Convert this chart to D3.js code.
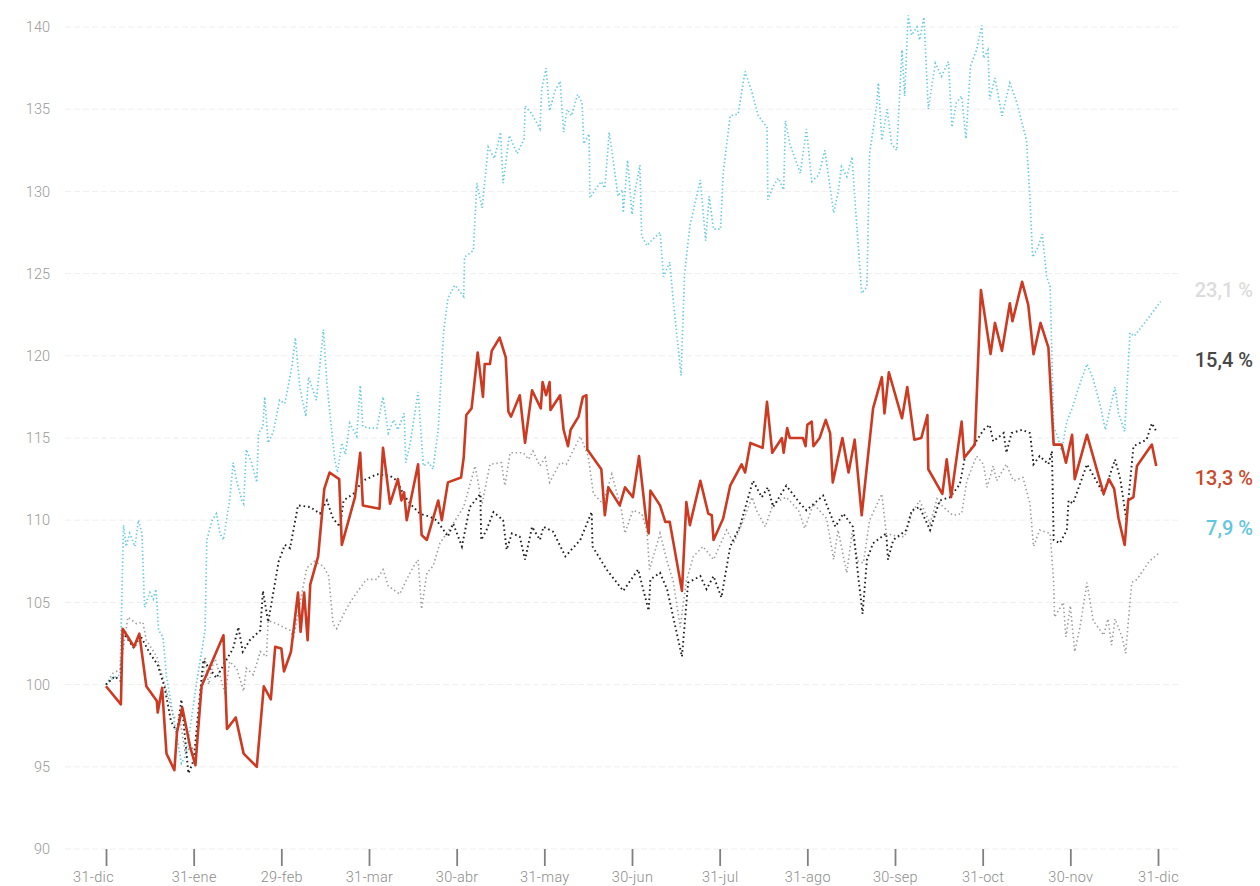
<!DOCTYPE html>
<html><head><meta charset="utf-8">
<script src="https://cdn.jsdelivr.net/npm/d3@7"></script>
<style>
html,body{margin:0;padding:0;background:#fff;}
svg{display:block;}
.ax text{font-family:Roboto,"DejaVu Sans",sans-serif;font-weight:300;fill:#8a8a8a;}
.lbl{font-family:Roboto,"DejaVu Sans",sans-serif;font-weight:500;}
</style></head>
<body><svg id="c" width="1260" height="886"></svg>
<script>
// ---- data (months since 31-dic, index value) ----
const monthLabels = ["31-dic","31-ene","29-feb","31-mar","30-abr","31-may","30-jun","31-jul","31-ago","30-sep","31-oct","30-nov","31-dic"];
const yTicks = [90,95,100,105,110,115,120,125,130,135,140];

const red = [[0.00,99.9],[0.17,98.8],[0.19,103.4],[0.32,102.3],[0.38,103.1],[0.46,99.9],[0.58,99.0],[0.59,98.3],[0.64,99.8],[0.69,95.8],[0.78,94.8],[0.81,97.1],[0.87,98.6],[0.96,96.2],[1.02,95.1],[1.09,99.9],[1.34,103.0],[1.38,97.3],[1.48,98.0],[1.57,95.8],[1.72,95.0],[1.80,99.9],[1.88,99.1],[1.93,102.3],[2.00,102.2],[2.03,100.8],[2.11,102.0],[2.19,105.6],[2.22,103.2],[2.26,105.6],[2.30,102.7],[2.33,106.1],[2.42,107.8],[2.49,111.9],[2.55,112.9],[2.66,112.5],[2.69,108.5],[2.84,111.4],[2.90,114.1],[2.93,110.9],[3.12,110.7],[3.16,114.4],[3.24,111.0],[3.33,112.5],[3.37,111.2],[3.40,111.7],[3.43,110.0],[3.56,113.4],[3.60,109.1],[3.66,108.8],[3.79,111.2],[3.83,110.0],[3.90,112.3],[4.05,112.6],[4.08,113.8],[4.11,116.4],[4.17,116.8],[4.24,120.2],[4.30,117.5],[4.32,119.5],[4.38,119.5],[4.40,120.3],[4.49,121.1],[4.56,119.9],[4.59,116.6],[4.62,116.3],[4.72,117.6],[4.78,114.7],[4.86,117.9],[4.96,116.8],[4.98,118.4],[5.02,117.6],[5.06,118.4],[5.07,116.7],[5.18,117.6],[5.22,115.5],[5.27,114.5],[5.30,115.5],[5.39,116.3],[5.44,117.5],[5.48,117.6],[5.49,114.3],[5.65,113.1],[5.69,110.3],[5.73,112.0],[5.86,110.9],[5.92,112.0],[6.01,111.4],[6.08,113.9],[6.16,110.1],[6.19,109.2],[6.21,111.8],[6.32,110.9],[6.38,109.9],[6.43,109.9],[6.57,105.7],[6.62,111.1],[6.66,109.7],[6.78,112.4],[6.87,110.4],[6.91,110.3],[6.93,108.8],[7.04,110.1],[7.12,112.1],[7.25,113.4],[7.29,112.9],[7.35,114.7],[7.49,114.4],[7.54,117.2],[7.60,114.1],[7.71,115.0],[7.73,114.1],[7.77,115.6],[7.80,115.0],[7.95,115.0],[7.98,114.5],[8.00,115.8],[8.05,116.0],[8.07,114.5],[8.14,115.0],[8.21,116.1],[8.26,115.3],[8.29,112.3],[8.40,115.0],[8.47,112.9],[8.54,114.9],[8.62,110.3],[8.75,116.8],[8.85,118.7],[8.88,116.5],[8.93,119.0],[9.08,116.2],[9.14,118.1],[9.22,114.9],[9.30,115.0],[9.37,116.4],[9.38,113.1],[9.54,111.6],[9.59,113.7],[9.64,111.4],[9.76,116.0],[9.79,113.8],[9.91,114.6],[9.98,124.0],[10.09,120.1],[10.14,122.0],[10.22,120.3],[10.31,123.2],[10.34,122.1],[10.45,124.5],[10.52,123.1],[10.58,120.1],[10.66,122.0],[10.75,120.5],[10.81,114.6],[10.90,114.6],[10.95,113.5],[11.02,115.2],[11.05,112.5],[11.19,115.2],[11.38,111.6],[11.44,112.5],[11.50,111.9],[11.55,110.1],[11.62,108.5],[11.66,111.2],[11.72,111.4],[11.76,113.3],[11.93,114.6],[11.98,113.3]];

const black = [[0.00,100.0],[0.10,100.5],[0.17,100.2],[0.19,103.2],[0.27,102.6],[0.32,102.2],[0.39,103.0],[0.50,101.9],[0.59,101.2],[0.67,99.8],[0.74,97.8],[0.81,97.1],[0.86,99.1],[0.94,94.6],[1.00,95.4],[1.11,101.5],[1.26,100.4],[1.34,101.2],[1.45,102.2],[1.51,103.5],[1.56,102.0],[1.64,102.7],[1.76,103.3],[1.79,105.7],[1.85,103.8],[1.97,107.5],[2.04,108.5],[2.10,108.3],[2.19,110.9],[2.33,110.8],[2.44,110.4],[2.52,111.2],[2.59,110.1],[2.67,109.6],[2.71,111.2],[2.82,111.6],[2.93,112.4],[3.09,112.8],[3.24,112.7],[3.32,112.4],[3.39,111.6],[3.47,111.0],[3.58,110.4],[3.70,110.2],[3.77,110.0],[3.85,109.4],[3.90,109.0],[3.96,109.8],[4.06,108.4],[4.15,110.8],[4.27,111.6],[4.28,108.8],[4.34,109.4],[4.42,110.5],[4.53,110.0],[4.57,108.2],[4.63,109.2],[4.72,109.0],[4.78,107.6],[4.86,109.6],[4.95,108.8],[4.99,109.6],[5.10,109.3],[5.24,107.8],[5.41,108.8],[5.54,110.5],[5.55,108.4],[5.71,107.0],[5.90,105.7],[6.07,107.0],[6.19,104.5],[6.21,106.4],[6.32,106.8],[6.40,105.8],[6.57,101.7],[6.64,106.2],[6.78,106.6],[6.85,105.8],[6.93,106.6],[7.02,105.3],[7.12,108.4],[7.23,109.6],[7.38,112.4],[7.48,111.4],[7.55,112.0],[7.61,110.8],[7.76,112.1],[7.92,111.0],[7.99,110.6],[8.18,111.5],[8.26,110.4],[8.32,109.6],[8.41,110.4],[8.52,109.6],[8.58,106.6],[8.63,104.3],[8.68,107.6],[8.75,108.6],[8.90,109.2],[8.92,107.6],[8.98,108.8],[9.13,109.4],[9.19,110.6],[9.28,110.8],[9.40,109.4],[9.51,111.2],[9.63,111.4],[9.74,112.2],[9.80,113.9],[9.89,114.5],[10.01,115.5],[10.08,115.8],[10.12,114.8],[10.24,115.3],[10.27,114.1],[10.33,115.3],[10.45,115.5],[10.54,115.3],[10.58,113.4],[10.65,113.9],[10.75,113.4],[10.79,114.2],[10.81,108.8],[10.88,108.6],[10.96,109.4],[10.98,111.2],[11.03,111.0],[11.19,113.4],[11.38,111.6],[11.51,113.7],[11.57,112.5],[11.64,110.0],[11.72,114.5],[11.87,114.9],[11.93,115.9],[11.98,115.4]];

const grey = [[0.00,100.0],[0.08,100.7],[0.16,100.9],[0.25,104.1],[0.35,103.7],[0.42,103.8],[0.46,102.7],[0.58,101.7],[0.67,100.0],[0.77,98.0],[0.84,98.0],[0.90,96.0],[1.03,96.2],[1.13,101.7],[1.17,100.0],[1.24,101.7],[1.36,99.4],[1.41,101.4],[1.49,101.0],[1.57,99.6],[1.60,101.0],[1.68,100.6],[1.76,102.0],[1.83,101.7],[1.85,103.9],[1.95,103.7],[2.02,103.5],[2.10,103.3],[2.14,102.9],[2.29,107.1],[2.38,107.5],[2.48,107.2],[2.54,106.6],[2.59,103.7],[2.63,103.4],[2.73,104.5],[2.82,105.3],[2.97,106.4],[3.09,106.4],[3.16,107.0],[3.22,106.0],[3.35,105.5],[3.43,106.4],[3.51,107.2],[3.56,107.6],[3.60,104.6],[3.66,106.8],[3.73,107.2],[3.81,108.6],[3.96,109.8],[4.08,110.8],[4.21,113.3],[4.29,111.0],[4.38,113.4],[4.51,113.5],[4.55,112.1],[4.61,114.1],[4.76,114.1],[4.82,113.7],[4.87,114.2],[4.95,113.3],[5.01,113.8],[5.06,112.3],[5.18,113.5],[5.25,113.4],[5.41,115.1],[5.50,113.9],[5.56,111.6],[5.67,111.0],[5.77,112.8],[5.88,110.6],[5.92,109.2],[6.01,110.6],[6.11,110.4],[6.17,109.4],[6.20,107.0],[6.32,109.2],[6.40,107.5],[6.47,106.3],[6.55,103.5],[6.62,106.3],[6.70,107.8],[6.81,108.4],[6.93,107.6],[7.08,109.4],[7.16,108.6],[7.27,110.0],[7.37,111.4],[7.42,110.6],[7.52,109.6],[7.61,111.0],[7.76,111.4],[7.90,110.6],[7.97,109.5],[8.07,111.0],[8.22,110.1],[8.30,107.6],[8.35,109.4],[8.45,106.8],[8.51,109.2],[8.58,107.5],[8.64,107.4],[8.71,110.0],[8.85,111.6],[8.90,109.2],[9.04,109.0],[9.11,109.0],[9.19,110.4],[9.28,111.2],[9.40,109.8],[9.48,111.3],[9.55,110.8],[9.66,110.3],[9.76,110.4],[9.82,112.4],[9.93,113.9],[10.01,113.4],[10.05,112.0],[10.12,113.3],[10.16,112.4],[10.27,113.4],[10.35,112.4],[10.46,112.6],[10.54,111.0],[10.58,108.4],[10.65,109.4],[10.77,109.2],[10.81,106.2],[10.82,104.1],[10.92,105.0],[10.95,102.9],[11.00,104.8],[11.05,102.0],[11.11,103.5],[11.19,106.2],[11.26,103.9],[11.38,103.0],[11.43,104.0],[11.47,102.4],[11.51,104.0],[11.59,102.9],[11.63,101.9],[11.70,106.2],[11.76,106.4],[11.90,107.5],[12.01,108.0]];

const cyan = [[0.00,100.0],[0.08,100.4],[0.16,100.6],[0.20,109.7],[0.23,108.4],[0.27,109.2],[0.33,108.4],[0.37,110.0],[0.41,109.2],[0.44,104.7],[0.50,105.6],[0.54,105.2],[0.57,105.8],[0.60,103.3],[0.65,102.9],[0.69,100.5],[0.77,98.0],[0.86,95.2],[0.90,95.6],[0.95,97.0],[1.03,100.0],[1.13,103.3],[1.15,108.8],[1.21,110.0],[1.26,110.4],[1.30,109.2],[1.34,108.8],[1.38,110.2],[1.41,111.2],[1.45,113.5],[1.49,112.4],[1.55,111.2],[1.57,111.0],[1.60,114.3],[1.66,113.5],[1.72,112.3],[1.74,115.3],[1.79,115.7],[1.81,117.5],[1.85,114.7],[1.91,115.4],[1.98,117.3],[2.04,117.1],[2.12,119.3],[2.16,121.1],[2.21,118.1],[2.28,116.3],[2.31,118.7],[2.40,117.3],[2.48,121.6],[2.52,118.3],[2.57,115.7],[2.61,113.7],[2.64,112.9],[2.69,114.7],[2.73,114.0],[2.78,115.9],[2.86,115.1],[2.90,118.2],[2.93,115.7],[3.01,115.6],[3.09,115.6],[3.16,117.5],[3.22,115.3],[3.28,116.1],[3.33,115.5],[3.40,116.5],[3.42,113.5],[3.47,114.7],[3.56,117.8],[3.62,113.3],[3.68,113.5],[3.73,113.1],[3.79,115.5],[3.85,121.4],[3.90,123.5],[3.98,124.3],[4.08,123.6],[4.09,126.0],[4.19,126.4],[4.23,130.5],[4.29,129.0],[4.36,132.7],[4.43,132.0],[4.50,133.6],[4.53,130.5],[4.60,133.4],[4.69,132.3],[4.77,133.2],[4.78,135.2],[4.86,134.7],[4.95,133.8],[4.97,136.2],[5.02,137.5],[5.06,134.9],[5.12,136.1],[5.18,136.7],[5.22,133.6],[5.26,135.0],[5.31,134.6],[5.38,135.9],[5.43,135.4],[5.45,132.9],[5.51,133.5],[5.52,129.6],[5.58,130.1],[5.65,130.6],[5.69,130.2],[5.74,133.6],[5.79,131.7],[5.84,129.7],[5.89,130.1],[5.90,128.7],[5.95,131.9],[6.00,128.6],[6.03,129.9],[6.09,131.6],[6.11,127.3],[6.17,126.7],[6.22,127.0],[6.32,127.5],[6.36,124.8],[6.43,125.7],[6.47,123.4],[6.56,118.8],[6.60,125.0],[6.66,127.9],[6.78,130.7],[6.84,127.0],[6.88,129.7],[6.93,127.7],[7.01,127.7],[7.04,131.1],[7.12,134.6],[7.21,134.7],[7.29,137.3],[7.37,136.0],[7.44,134.6],[7.54,133.9],[7.55,129.5],[7.61,130.3],[7.67,130.8],[7.73,130.1],[7.75,134.3],[7.80,132.9],[7.92,131.1],[7.99,133.8],[8.05,130.6],[8.13,131.0],[8.20,132.5],[8.30,128.7],[8.35,129.9],[8.39,131.5],[8.45,130.9],[8.51,132.1],[8.54,129.7],[8.62,123.8],[8.68,124.2],[8.71,132.3],[8.79,135.2],[8.81,136.6],[8.85,133.1],[8.91,135.0],[8.96,132.9],[9.02,132.5],[9.08,138.6],[9.11,135.8],[9.15,140.7],[9.19,139.5],[9.25,140.0],[9.28,139.2],[9.33,140.6],[9.38,135.0],[9.46,137.8],[9.53,137.0],[9.61,137.9],[9.65,133.9],[9.70,135.4],[9.76,135.8],[9.81,133.2],[9.86,137.6],[9.93,138.6],[9.99,140.1],[10.01,138.1],[10.06,138.6],[10.08,135.6],[10.14,136.9],[10.22,134.6],[10.31,136.6],[10.39,135.4],[10.50,133.1],[10.54,129.5],[10.57,126.0],[10.63,126.6],[10.68,127.4],[10.73,124.8],[10.77,124.2],[10.81,115.7],[10.86,115.0],[10.90,114.2],[10.96,116.0],[11.02,116.8],[11.09,118.0],[11.19,119.5],[11.26,118.6],[11.34,117.0],[11.40,115.5],[11.45,116.7],[11.51,118.1],[11.55,116.5],[11.62,115.4],[11.68,121.4],[11.73,121.2],[11.89,122.3],[12.03,123.3]];

const endLabels = ["23,1 %","15,4 %","13,3 %","7,9 %"];

// ---- layout / style ----
const svg = d3.select("#c");
const x = d3.scaleLinear().domain([0,12]).range([106,1158]);
const y = d3.scaleLinear().domain([90,140]).range([849,27]);

// grid
svg.append("g").selectAll("line").data(yTicks).join("line")
  .attr("x1",65).attr("x2",1180)
  .attr("y1",d=>y(d)).attr("y2",d=>y(d))
  .attr("stroke","#efefef").attr("stroke-width",1).attr("stroke-dasharray","6,3");

// y axis labels
const ya = svg.append("g").attr("class","ax").attr("transform","translate(52,0)")
  .call(d3.axisLeft(y).tickValues(yTicks).tickSize(0).tickPadding(2));
ya.select(".domain").remove();
ya.selectAll("text").attr("font-size",14.5).style("fill","#999");

// x axis
const xa = svg.append("g").attr("class","ax").attr("transform",`translate(0,${y(90)})`)
  .call(d3.axisBottom(x).tickValues(d3.range(13)).tickSize(17).tickPadding(6).tickFormat(i=>monthLabels[i]));
xa.select(".domain").remove();
xa.selectAll(".tick line").attr("stroke","#808080").attr("stroke-width",1.8);
xa.selectAll("text").attr("font-size",14.5).style("fill","#8c8c8c").style("letter-spacing","0.3px")
  .attr("dx",(d)=>d===0?-13:0);

const line = d3.line().x(d=>x(d[0])).y(d=>y(d[1]));

svg.append("path").datum(cyan).attr("d",line).attr("fill","none")
  .attr("stroke","#66cbe0").attr("stroke-width",1.7).attr("stroke-dasharray","1.4,2.4");
svg.append("path").datum(grey).attr("d",line).attr("fill","none")
  .attr("stroke","#9a9a9a").attr("stroke-width",1.6).attr("stroke-dasharray","1.4,2.8");
svg.append("path").datum(black).attr("d",line).attr("fill","none")
  .attr("stroke","#1e1e1e").attr("stroke-width",1.9).attr("stroke-dasharray","1.6,3");
svg.append("path").datum(red).attr("d",line).attr("fill","none")
  .attr("stroke","#cc3a22").attr("stroke-width",2.6).attr("stroke-linejoin","round");

// end labels
const labelColors = ["#dcdcdc","#474747","#c94a2c","#62c6dd"];
const labelY = [290,360,478,528];
svg.append("g").selectAll("text").data(endLabels).join("text")
  .attr("class","lbl").attr("x",1253).attr("y",(d,i)=>labelY[i]).attr("dy","0.35em")
  .attr("text-anchor","end").attr("font-size",20)
  .attr("fill",(d,i)=>labelColors[i]).text(d=>d);
</script></body></html>
